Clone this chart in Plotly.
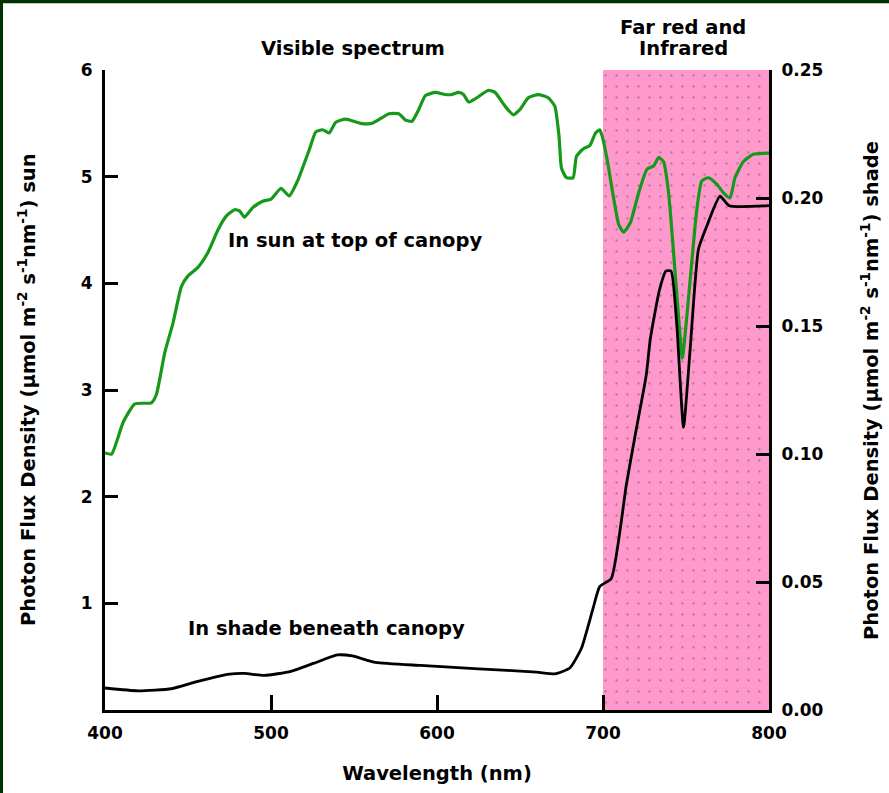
import plotly.graph_objects as go

# ---------------- data ----------------
sun_wl = [400, 404, 411, 418, 428, 431, 436, 441, 446, 450, 456, 462, 468, 473, 478, 481, 484,
          489, 495, 500, 506, 511, 516, 523, 527, 531, 535, 539, 545, 554, 561, 571, 577, 581,
          585, 589, 593, 599, 605, 609, 613, 616, 619, 623, 631, 635, 641, 646, 650, 655, 661,
          667, 671, 673.5, 675, 678, 682, 684, 688, 692, 695.5, 698, 699.5, 702.5, 706.5, 709.5,
          712.5, 716.5, 721.5, 726.5, 730.5, 733.5, 736.5, 739.5, 742.5, 745.5, 747.8, 750.5,
          756.5, 759.5, 763.5, 768.5, 772.5, 776.5, 779.5, 784.5, 790.5, 800]
sun_val = [2.41, 2.40, 2.70, 2.87, 2.88, 2.96, 3.35, 3.63, 3.97, 4.07, 4.15, 4.29, 4.50, 4.63,
           4.69, 4.68, 4.62, 4.71, 4.77, 4.79, 4.89, 4.82, 4.96, 5.25, 5.42, 5.44, 5.41, 5.51,
           5.54, 5.50, 5.50, 5.59, 5.59, 5.53, 5.52, 5.63, 5.76, 5.79, 5.77, 5.77, 5.79, 5.77,
           5.70, 5.73, 5.81, 5.79, 5.66, 5.58, 5.63, 5.74, 5.77, 5.74, 5.66, 5.38, 5.08, 4.99,
           4.99, 5.19, 5.26, 5.29, 5.41, 5.44, 5.38, 5.16, 4.79, 4.55, 4.48, 4.57, 4.85, 5.07,
           5.10, 5.18, 5.14, 4.85, 4.29, 3.69, 3.30, 3.69, 4.69, 4.96, 4.99, 4.93, 4.85, 4.80,
           4.99, 5.14, 5.21, 5.22]

shade_wl = [400, 420, 440, 456, 475, 484, 496, 512, 526, 540, 549, 563, 590, 625, 660, 671, 680,
            687, 694, 698, 705, 714, 719, 726, 728.5, 734, 738, 741, 744.5, 748.5, 752.5, 757.5,
            762.5, 770.5, 776, 800]
shade_val = [0.0086, 0.0075, 0.0083, 0.0112, 0.0140, 0.0143, 0.0135, 0.0151, 0.0183, 0.0215,
             0.0211, 0.0186, 0.0174, 0.0161, 0.0148, 0.0141, 0.0164, 0.0241, 0.0397, 0.0482,
             0.0514, 0.0877, 0.1060, 0.1306, 0.1449, 0.1640, 0.1715, 0.1715, 0.150, 0.1105,
             0.141, 0.180, 0.189, 0.2007, 0.197, 0.197]

x_ticks = [400, 500, 600, 700, 800]
sun_ticks = [1, 2, 3, 4, 5, 6]
shade_ticks = [0.0, 0.05, 0.10, 0.15, 0.20, 0.25]
shade_ticktext = ["0.00", "0.05", "0.10", "0.15", "0.20", "0.25"]

far_red_band = [700, 800]

# ---------------- figure ----------------
W, H = 889, 793
L, R, T, B = 105, 120, 70, 81
PW, PH = W - L - R, H - T - B

FONT = "DejaVu Sans"
BLACK = "#000000"
GREEN = "#16991a"
PINK = "#ff99cc"

def px(xpix):
    return (xpix - L) / PW

def py(ypix):
    return (H - B - ypix) / PH

fig = go.Figure()

# Far red / infrared band as a patterned bar
fig.add_trace(go.Bar(
    x=[(far_red_band[0] + far_red_band[1]) / 2], y=[6],
    width=[far_red_band[1] - far_red_band[0]],
    marker=dict(color=PINK, line=dict(width=0),
                pattern=dict(shape=".", fgcolor="#6e5060", bgcolor=PINK,
                             size=11, solidity=0.035, fillmode="overlay")),
    hoverinfo="skip", showlegend=False, yaxis="y",
))

fig.add_trace(go.Scatter(
    x=shade_wl, y=shade_val, mode="lines", yaxis="y2",
    line=dict(color=BLACK, width=2.8, shape="spline", smoothing=0.5),
    showlegend=False,
))
fig.add_trace(go.Scatter(
    x=sun_wl, y=sun_val, mode="lines", yaxis="y",
    line=dict(color=GREEN, width=3.2, shape="spline", smoothing=0.5),
    showlegend=False,
))

tickfont = dict(family=FONT, size=17, color=BLACK, weight="bold")
textfont = dict(family=FONT, size=19.5, color=BLACK, weight="bold")

fig.update_layout(
    width=W, height=H,
    margin=dict(l=L, r=R, t=T, b=B, pad=0),
    paper_bgcolor="white", plot_bgcolor="white",
    bargap=0,
    showlegend=False,
    xaxis=dict(range=[400, 800], tickvals=x_ticks, ticks="inside", ticklen=15,
               tickwidth=3, tickcolor=BLACK, showline=True, linewidth=3, linecolor=BLACK,
               showgrid=False, zeroline=False, tickfont=tickfont, ticklabelstandoff=6,
               title=dict(text="Wavelength (nm)", font=textfont, standoff=24)),
    yaxis=dict(range=[0, 6], tickvals=sun_ticks, ticks="inside", ticklen=13, tickwidth=3,
               tickcolor=BLACK, showline=True, linewidth=3, linecolor=BLACK, showgrid=False,
               zeroline=False, tickfont=tickfont, ticklabelstandoff=6),
    yaxis2=dict(range=[0, 0.25], tickvals=shade_ticks, ticktext=shade_ticktext,
                overlaying="y", side="right", ticks="inside", ticklen=13, tickwidth=3,
                tickcolor=BLACK, showline=True, linewidth=3, linecolor=BLACK, showgrid=False,
                zeroline=False, tickfont=tickfont, ticklabelstandoff=6),
)

sup = "Photon Flux Density (µmol m<sup>-2</sup> s<sup>-1</sup>nm<sup>-1</sup>) "
annotations = [
    dict(text="Visible spectrum", x=px(353), y=py(48)),
    dict(text="Far red and", x=px(683), y=py(27)),
    dict(text="Infrared", x=px(683), y=py(48)),
    dict(text="In sun at top of canopy", x=px(355), y=py(241)),
    dict(text="In shade beneath canopy", x=px(326), y=py(630)),
    dict(text=sup + "sun", x=px(27), y=0.5, textangle=-90),
    dict(text=sup + "shade", x=px(870), y=0.5, textangle=-90),
]
for a in annotations:
    fig.add_annotation(xref="paper", yref="paper", showarrow=False, xanchor="center",
                       yanchor="middle", font=textfont, **a)

# dark green frame on the left and top edges
fig.add_shape(type="rect", xref="paper", yref="paper", x0=px(-5), x1=px(3), y0=py(H + 5),
              y1=py(-5), fillcolor="#003300", line=dict(width=0), layer="above")
fig.add_shape(type="rect", xref="paper", yref="paper", x0=px(-5), x1=px(W + 5), y0=py(3),
              y1=py(-5), fillcolor="#003300", line=dict(width=0), layer="above")

fig.write_html("out.html", config={"displayModeBar": False},
               post_script="document.body.style.margin='0';document.body.style.overflow='hidden';")
